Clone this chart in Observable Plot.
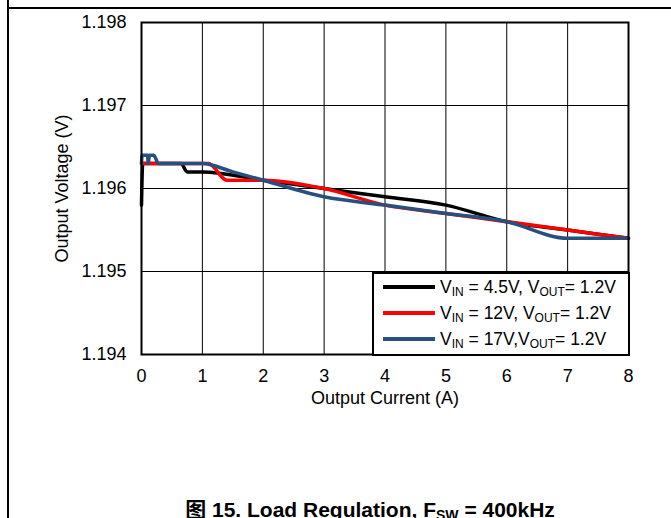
<!DOCTYPE html>
<html>
<head>
<meta charset="utf-8">
<script src="https://cdn.jsdelivr.net/npm/d3@7"></script>
<script src="https://cdn.jsdelivr.net/npm/@observablehq/plot@0.6"></script>
<style>
  html, body { margin: 0; padding: 0; background: #fff; width: 671px; height: 518px; overflow: hidden; }
  #wrap { position: relative; width: 671px; height: 518px; font-family: "Liberation Sans", Arial, sans-serif; }
  #chart { position: absolute; left: 0; top: 0; }
  .vline { position: absolute; left: 7px; top: 0; width: 2px; height: 518px; background: #000; }
  .hline { position: absolute; left: 7px; top: 7px; width: 664px; height: 2px; background: #000; }
  #legend { position: absolute; left: 372px; top: 272px; width: 254px; height: 80px; border: 2px solid #000; background: #fff; }
  .item { position: absolute; left: 9px; height: 20px; display: flex; align-items: center; font-size: 17.5px; color: #000; white-space: nowrap; }
  .swatch { width: 52px; height: 3.5px; margin-right: 5px; }
  sub { font-size: 12px; vertical-align: -3px; line-height: 0; }
  #caption { position: absolute; top: 498px; left: 370px; transform: translateX(-50%); font-weight: bold; font-size: 21px; line-height: 21px; white-space: nowrap; color: #000; }
  #caption sub { font-size: 14px; vertical-align: -3px; }
  #caption .cjk { font-family: "Noto Sans CJK SC", sans-serif; }
</style>
</head>
<body>
<div id="wrap">
  <div id="chart"></div>
  <div class="vline"></div>
  <div class="hline"></div>
  <div id="legend"></div>
  <div id="caption"><span class="cjk">图</span> 15. Load Regulation, F<sub>SW</sub> = 400kHz</div>
</div>
<script>
// ---- data ----
const seriesNames = ["VIN = 4.5V, VOUT= 1.2V", "VIN = 12V, VOUT= 1.2V", "VIN = 17V,VOUT= 1.2V"];
const seriesColors = ["#000000", "#ff0000", "#25507f"];

const current4p5 = [0, 0.02, 0.65, 0.75, 1.0, 2.0, 3.0, 4.0, 5.0, 6.0, 7.0, 8.0];
const vout4p5    = [1.1958, 1.1963, 1.1963, 1.1962, 1.1962, 1.1961, 1.1960, 1.1959, 1.1958, 1.1956, 1.1955, 1.1954];

const current12 = [0, 1.1, 1.4, 2.0, 3.0, 4.0, 5.0, 6.0, 7.0, 8.0];
const vout12    = [1.1963, 1.1963, 1.1961, 1.1961, 1.1960, 1.1958, 1.1957, 1.1956, 1.1955, 1.1954];

const current17 = [0, 0.01, 0.1, 0.11, 0.13, 0.2, 0.28, 1.0, 1.5, 2.0, 3.0, 4.0, 5.0, 6.0, 7.0, 8.0];
const vout17    = [1.1963, 1.1964, 1.1964, 1.1963, 1.1964, 1.1964, 1.1963, 1.1963, 1.1962, 1.1961, 1.1959, 1.1958, 1.1957, 1.1956, 1.1954, 1.1954];

const xTicks = [0, 1, 2, 3, 4, 5, 6, 7, 8];
const yTicks = [1.194, 1.195, 1.196, 1.197, 1.198];
const xLabel = "Output Current (A)";
const yLabel = "Output Voltage (V)";

// ---- build rows ----
const allX = [current4p5, current12, current17];
const allY = [vout4p5, vout12, vout17];
const lineMarks = allX.map((xs, i) =>
  Plot.line(xs.map((x, j) => ({x, y: allY[i][j]})), {
    x: "x", y: "y", stroke: seriesColors[i], strokeWidth: 3.5, curve: "monotone-x"
  })
);

const chart = Plot.plot({
  width: 671,
  height: 518,
  marginLeft: 141,
  marginRight: 43,
  marginTop: 22,
  marginBottom: 164,
  x: {domain: [0, 8]},
  y: {domain: [1.194, 1.198]},
  style: {fontFamily: "'Liberation Sans', Arial, sans-serif", fontSize: "18px", color: "#000", background: "transparent"},
  marks: [
    Plot.ruleX(xTicks, {stroke: "#000", strokeWidth: 1}),
    Plot.ruleY(yTicks, {stroke: "#000", strokeWidth: 1}),
    ...lineMarks,
    Plot.frame({stroke: "#000", strokeWidth: 2}),
    Plot.axisX({ticks: xTicks, tickSize: 0, tickPadding: 15, label: null, tickFormat: d => String(d)}),
    Plot.axisY({ticks: yTicks, tickSize: 0, tickPadding: 15, label: null, tickFormat: d3.format(".3f")}),
    Plot.text([xLabel], {text: d => d, frameAnchor: "bottom", dy: 44, lineAnchor: "middle", textAnchor: "middle", fontSize: 18}),
    Plot.text([yLabel], {text: d => d, frameAnchor: "left", dx: -79, rotate: -90, lineAnchor: "middle", textAnchor: "middle", fontSize: 18})
  ]
});
document.getElementById("chart").appendChild(chart);

// ---- legend ----
const legendHTML = [
  'V<sub>IN</sub> = 4.5V, V<sub>OUT</sub>= 1.2V',
  'V<sub>IN</sub> = 12V, V<sub>OUT</sub>= 1.2V',
  'V<sub>IN</sub> = 17V,V<sub>OUT</sub>= 1.2V'
];
const legend = document.getElementById("legend");
seriesNames.forEach((name, i) => {
  const it = document.createElement("div");
  it.className = "item";
  it.style.top = (3 + i * 26) + "px";
  it.innerHTML = `<span class="swatch" style="background:${seriesColors[i]}"></span><span>${legendHTML[i]}</span>`;
  legend.appendChild(it);
});
</script>
</body>
</html>
